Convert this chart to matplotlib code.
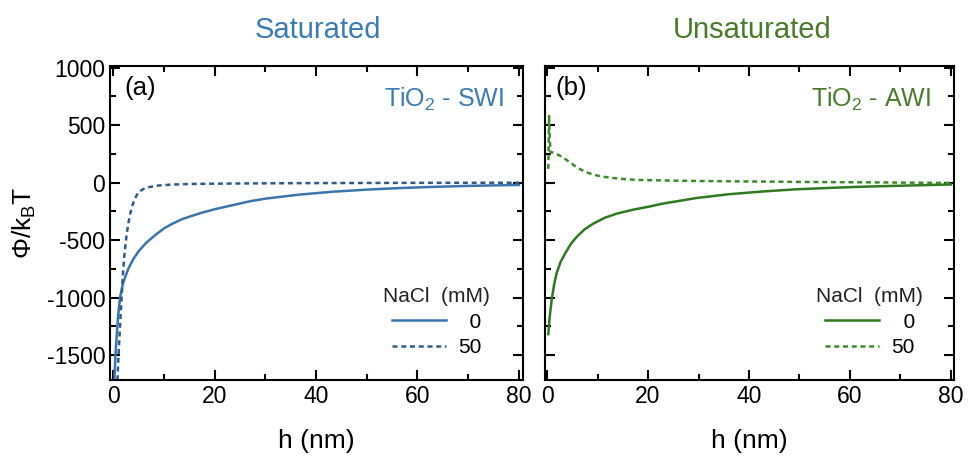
import matplotlib
matplotlib.use("Agg")
import matplotlib.pyplot as plt
from matplotlib.ticker import MultipleLocator

plt.rcParams['font.family'] = ['Liberation Sans', 'DejaVu Sans']
plt.rcParams['mathtext.fontset'] = 'custom'
plt.rcParams['mathtext.rm'] = 'Liberation Sans'
plt.rcParams['mathtext.it'] = 'Liberation Sans:italic'
plt.rcParams['mathtext.bf'] = 'Liberation Sans:bold'
plt.rcParams['axes.unicode_minus'] = False

# ---- data ----
h_swi_0 = [0.26, 0.5, 0.72, 1.0, 1.38, 2.0, 3.0, 4.0, 5.0, 6.5, 8.3, 10.0, 11.6, 13.5, 15.5,
           17.5, 20.0, 23.7, 27.0, 30.3, 36.8, 43.4, 50.0, 56.6, 63.2, 69.7, 80.0]
v_swi_0 = [-1720, -1480, -1333, -1160, -1000, -870, -750, -665, -600, -525, -457, -400, -360, -320, -290,
           -262, -232, -195, -162, -138, -104, -79, -61, -47, -37, -29, -20]
h_swi_50 = [0.85, 0.92, 1.1, 1.38, 1.7, 2.0, 2.3, 2.7, 3.2, 3.7, 4.3, 5.0, 6.0, 7.0, 9.0, 11.6,
            15.0, 20.0, 30.0, 40.0, 60.0, 80.0]
v_swi_50 = [-1720, -1678, -1480, -1247, -990, -759, -600, -443, -310, -213, -140, -83, -55, -40, -25, -17,
            -12, -9, -6, -4, -2, -1]

h_awi_0 = [0.26, 0.5, 0.93, 1.4, 1.9, 2.7, 3.6, 4.7, 5.9, 7.5, 9.2, 11.5, 13.8, 17.0, 20.4,
           23.0, 29.6, 36.0, 42.8, 49.0, 56.0, 62.0, 69.2, 80.0]
v_awi_0 = [-1319, -1180, -1017, -890, -787, -690, -615, -535, -471, -405, -356, -305, -270, -236, -207,
           -182, -134, -101, -77, -59, -46, -36, -28, -16]
h_awi_50 = [0.25, 0.4, 0.55, 0.7, 1.2, 1.8, 2.6, 3.6, 4.6, 5.5, 6.5, 7.8, 9.2, 11.0, 13.1, 15.5,
            18.4, 24.0, 30.0, 40.0, 50.0, 65.0, 80.0]
v_awi_50 = [120, 580, 380, 261, 262, 250, 233, 205, 175, 145, 118, 90, 69, 52, 40, 30,
            23, 18, 14, 10, 6, 2, -3]

legend_title = "NaCl  (mM)"
legend_labels = ["  0", "50"]

blue_solid = '#3a75ad'
blue_dash = '#2d5c8a'
green_solid = '#2f7a1f'
green_dash = '#3f8a2c'
blue_text = '#3b7bb6'
green_text = '#4a7b2b'

fig = plt.figure(figsize=(9.71, 4.62), dpi=100)
ax1 = fig.add_axes([110/971, 82/462, 413/971, 314/462])
ax2 = fig.add_axes([545/971, 82/462, 409/971, 314/462])

dash = (0, (2.0, 1.5))
ax1.plot(h_swi_0, v_swi_0, color=blue_solid, lw=1.8, label=legend_labels[0])
ax1.plot(h_swi_50, v_swi_50, color=blue_dash, lw=1.8, ls=dash, label=legend_labels[1])
ax2.plot(h_awi_0, v_awi_0, color=green_solid, lw=1.8, label=legend_labels[0])
ax2.plot(h_awi_50, v_awi_50, color=green_dash, lw=1.8, ls=dash, label=legend_labels[1])

for ax, xl in ((ax1, (-0.6, 80.8)), (ax2, (-0.4, 80.6))):
    ax.set_xlim(*xl)
    ax.set_ylim(-1718, 1015)
    ax.xaxis.set_major_locator(MultipleLocator(20))
    ax.xaxis.set_minor_locator(MultipleLocator(10))
    ax.yaxis.set_major_locator(MultipleLocator(500))
    ax.yaxis.set_minor_locator(MultipleLocator(250))
    ax.tick_params(which='both', direction='in', top=True, right=True, width=1.5, labelsize=16.5)
    ax.tick_params(which='major', length=7)
    ax.tick_params(which='minor', length=4.5)
    for s in ax.spines.values():
        s.set_linewidth(1.5)
    ax.set_xlabel("h (nm)", fontsize=19, labelpad=15)

ax2.tick_params(labelleft=False)
ax1.set_ylabel(r"$\Phi$/k$_\mathrm{B}$T", fontsize=19, labelpad=6)

fig.text(318/971, 1 - 30/462, "Saturated", color=blue_text, fontsize=21, ha='center', va='center')
fig.text(752/971, 1 - 30/462, "Unsaturated", color=green_text, fontsize=21, ha='center', va='center')

ax1.text(0.035, 0.93, "(a)", transform=ax1.transAxes, fontsize=18.5, va='center', ha='left')
ax2.text(0.025, 0.93, "(b)", transform=ax2.transAxes, fontsize=18.5, va='center', ha='left')
ax1.text(0.953, 0.893, r"TiO$_2$ - SWI", transform=ax1.transAxes, fontsize=18, color=blue_text, va='center', ha='right')
ax2.text(0.943, 0.893, r"TiO$_2$ - AWI", transform=ax2.transAxes, fontsize=18, color=green_text, va='center', ha='right')

for ax, anchor in ((ax1, (0.92, 0.295)), (ax2, (0.925, 0.295))):
    leg = ax.legend(title=legend_title, loc='upper right', bbox_to_anchor=anchor, frameon=False,
                    fontsize=15, title_fontsize=15, handlelength=2.6, handletextpad=0.6,
                    labelspacing=0.3, borderpad=0, borderaxespad=0)
    leg.get_title().set_color('#222222')

fig.savefig("out.png", dpi=100)
